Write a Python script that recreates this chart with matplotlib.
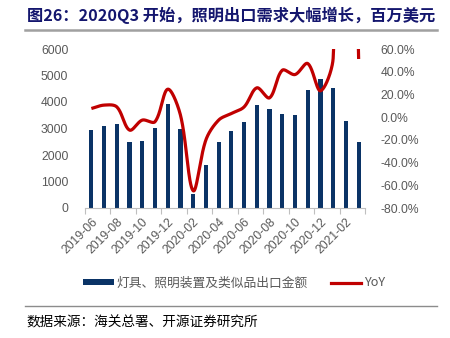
import matplotlib
matplotlib.use("Agg")
import matplotlib.pyplot as plt
import numpy as np
from matplotlib.lines import Line2D
from matplotlib.patches import Patch

months = ["2019-06", "2019-07", "2019-08", "2019-09", "2019-10", "2019-11", "2019-12",
          "2020-01", "2020-02", "2020-03", "2020-04", "2020-05", "2020-06", "2020-07",
          "2020-08", "2020-09", "2020-10", "2020-11", "2020-12", "2021-01", "2021-02", "2021-03"]
export_value = [2960, 3100, 3180, 2490, 2540, 3030, 3940, 2980, 540, 1640, 2490, 2890,
                3260, 3900, 3740, 3530, 3500, 4450, 4860, 4540, 3280, 2480]
yoy = [7.6, 10.6, 9.0, -11.4, -2.6, -4.0, 24.6, 1.8, -64.8, -20.0, -2.6, 3.2,
       9.0, 25.8, 17.0, 41.3, 37.5, 47.2, 23.2, 52.3, 507.0, 51.2]
left_ticks = [0, 1000, 2000, 3000, 4000, 5000, 6000]
right_ticks = [-80, -60, -40, -20, 0, 20, 40, 60]

title = "图26：2020Q3 开始，照明出口需求大幅增长，百万美元"
source = "数据来源：海关总署、开源证券研究所"
bar_label = "灯具、照明装置及类似品出口金额"
line_label = "YoY"

CJK = ["Noto Sans CJK SC", "DejaVu Sans"]
plt.rcParams["font.family"] = ["Liberation Sans", "Noto Sans CJK SC", "DejaVu Sans"]

BLUE = "#0a3366"
RED = "#c00000"
GRAY = "#595959"

fig = plt.figure(figsize=(4.5, 3.38), dpi=100)
ax = fig.add_axes([85 / 450, 1 - 208 / 338, 280 / 450, 159 / 338])

x = np.arange(len(months))
ax.bar(x, export_value, width=0.33, color=BLUE, zorder=2)
ax.set_xlim(-0.5, len(months) - 0.5)
ax.set_ylim(0, 6000)
ax.set_yticks(left_ticks)
ax.set_yticklabels([str(v) for v in left_ticks])
ax.tick_params(axis="y", length=0, pad=12, labelsize=8.7, labelcolor=GRAY)

ax.set_xticks(x[::2])
ax.set_xticklabels(months[::2], rotation=45, ha="right", rotation_mode="anchor")
ax.tick_params(axis="x", which="major", length=0, pad=6, labelsize=8.7, labelcolor=GRAY)
ax.set_xticks(np.arange(-0.5, len(months), 2), minor=True)
ax.tick_params(axis="x", which="minor", length=4, color="#bfbfbf", width=0.8)
for s in ["top", "right", "left"]:
    ax.spines[s].set_visible(False)
ax.spines["bottom"].set_color("#bfbfbf")
ax.spines["bottom"].set_linewidth(0.8)

ax2 = ax.twinx()
ax2.set_ylim(-80, 60)
ax2.set_yticks(right_ticks)
ax2.set_yticklabels([f"{v:.1f}%" for v in right_ticks])
ax2.tick_params(axis="y", length=0, pad=11, labelsize=8.7, labelcolor=GRAY)
for s in ["top", "right", "left", "bottom"]:
    ax2.spines[s].set_visible(False)

# Excel-style smoothed line: Bezier with tangents weighted by segment lengths
# (computed in approximate pixel space, then mapped back to data units)
sx, sy = 280 / len(months), 159 / 140.0
P = np.column_stack([x * sx, np.array(yoy, dtype=float) * sy])
n = len(P)
seg = np.hypot(*np.diff(P, axis=0).T)
t = np.linspace(0, 1, 60)
curve = []
for i in range(n - 1):
    p0, p3 = P[i], P[i + 1]
    d0 = seg[i - 1] if i > 0 else 0.0
    d1 = seg[i]
    d2 = seg[i + 1] if i + 1 < n - 1 else 0.0
    pm = P[i - 1] if i > 0 else P[i]
    pp = P[i + 2] if i + 2 < n else P[i + 1]
    c1 = p0 + (P[i + 1] - pm) * (d1 / (d0 + d1)) / 3 if d0 + d1 > 0 else p0
    c2 = p3 - (pp - P[i]) * (d1 / (d1 + d2)) / 3 if d1 + d2 > 0 else p3
    b = ((1 - t) ** 3)[:, None] * p0 + (3 * (1 - t) ** 2 * t)[:, None] * c1 \
        + (3 * (1 - t) * t ** 2)[:, None] * c2 + (t ** 3)[:, None] * p3
    curve.append(b)
curve = np.vstack(curve)
ax2.plot(curve[:, 0] / sx, curve[:, 1] / sy, color=RED, lw=2.3,
         solid_capstyle="butt", zorder=3)

# title and rules
fig.text(27 / 450, 1 - 15 / 338, title, fontsize=11.7, fontweight="bold",
         color="#14166e", family=CJK, va="center", ha="left")
fig.add_artist(Line2D([25 / 450, 437 / 450], [1 - 29.5 / 338] * 2, color="#a0a0a0", lw=1.8))
fig.add_artist(Line2D([25 / 450, 437 / 450], [1 - 306 / 338] * 2, color="#8c8c8c", lw=1.0))
fig.text(26 / 450, 1 - 322 / 338, source, fontsize=9.8, color="black", family=CJK,
         va="center", ha="left")

handles = [Patch(facecolor=BLUE, edgecolor="none"),
           Line2D([], [], color=RED, lw=2.3)]
leg = fig.legend(handles, [bar_label, line_label], loc="center",
                 bbox_to_anchor=(234 / 450, 1 - 283 / 338), ncol=2, frameon=False,
                 prop={"family": CJK, "size": 9.2}, labelcolor=GRAY,
                 handlelength=2.4, handleheight=0.45, handletextpad=0.2, columnspacing=1.8)

fig.savefig("out.png", dpi=100)
